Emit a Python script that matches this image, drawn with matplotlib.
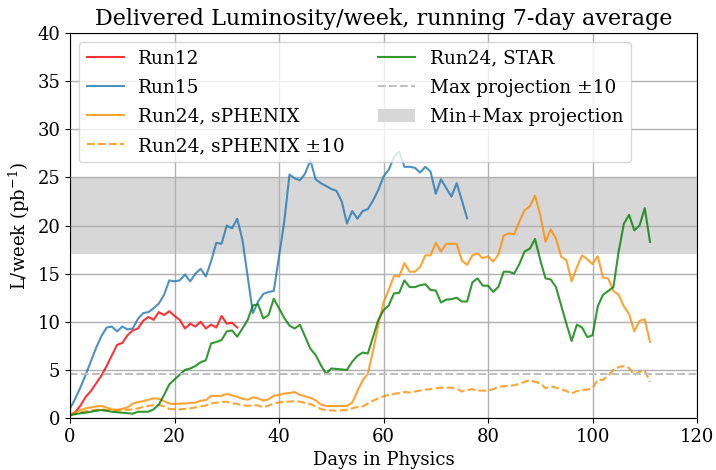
import numpy as np
import matplotlib
matplotlib.use("Agg")
import matplotlib.pyplot as plt

plt.rcParams['font.family'] = ['DejaVu Serif']
plt.rcParams['mathtext.fontset'] = 'dejavuserif'

run12 = [0.3, 0.6, 1.3, 2.2, 2.8, 3.6, 4.4, 5.4, 6.5, 7.6, 7.8, 8.6, 9.1, 9.3, 10.1,
         10.5, 10.2, 11.0, 10.7, 11.1, 10.6, 10.2, 9.3, 9.8, 9.5, 10.0, 9.3, 9.7, 9.4,
         10.6, 9.8, 9.9, 9.4]

run15 = [1.0, 2.0, 3.2, 4.5, 5.9, 7.3, 8.5, 9.4, 9.5, 9.0, 9.5, 9.2, 9.3, 10.3, 10.9,
         11.0, 11.4, 11.9, 12.8, 14.3, 14.2, 14.3, 14.9, 14.2, 15.0, 15.5, 14.7, 16.3,
         18.2, 18.1, 20.0, 19.7, 20.7, 18.5, 14.7, 10.9, 12.1, 12.9, 13.1, 13.2, 16.8,
         20.4, 25.3, 24.9, 24.7, 25.4, 26.8, 24.8, 24.4, 24.1, 23.8, 23.6, 22.5, 20.2,
         21.5, 20.7, 21.5, 21.7, 22.6, 23.7, 25.1, 25.8, 27.1, 27.7, 26.1, 26.1, 26.0,
         25.5, 26.1, 25.6, 23.3, 24.8, 23.9, 23.0, 24.4, 22.6, 20.75]

sphenix = [0.35, 0.6, 0.83, 1.0, 1.1, 1.2, 1.25, 1.1, 0.9, 0.85, 0.95, 1.1, 1.5, 1.65,
           1.75, 1.9, 2.05, 2.0, 1.75, 1.5, 1.45, 1.5, 1.5, 1.55, 1.6, 1.8, 1.85, 2.3,
           2.3, 2.3, 2.5, 2.35, 2.2, 2.0, 1.9, 2.15, 2.05, 1.8, 1.95, 2.3, 2.4, 2.55, 2.6,
           2.7, 2.4, 2.25, 2.1, 1.85, 1.4, 1.25, 1.25, 1.25, 1.25, 1.25, 1.6, 2.8, 3.9,
           4.6, 7.0, 9.7, 12.0, 13.3, 14.75, 14.7, 16.1, 15.2, 15.2, 15.7, 16.9, 16.9,
           18.2, 17.3, 18.1, 18.1, 18.1, 16.35, 15.9, 16.9, 17.1, 16.6, 16.8, 16.25, 17.0,
           18.95, 19.2, 19.1, 20.4, 21.6, 22.0, 23.1, 21.1, 18.3, 19.6, 18.65, 16.75,
           16.4, 14.2, 15.65, 16.9, 16.5, 16.0, 16.8, 14.6, 14.5, 13.2, 12.8, 11.6, 10.8,
           9.0, 10.1, 10.25, 7.9]

sphenix_pm10 = [0.3, 0.45, 0.6, 0.7, 0.8, 0.85, 0.9, 0.85, 0.8, 0.8, 0.8, 0.85, 0.9, 1.0,
                1.15, 1.25, 1.35, 1.35, 1.2, 0.95, 0.9, 0.9, 0.95, 1.0, 1.1, 1.2, 1.3, 1.5,
                1.6, 1.65, 1.7, 1.55, 1.45, 1.35, 1.25, 1.35, 1.3, 1.1, 1.3, 1.5, 1.6, 1.7,
                1.7, 1.75, 1.7, 1.55, 1.45, 1.2, 0.95, 0.8, 0.8, 0.75, 0.8, 0.85, 1.0, 1.15,
                1.2, 1.5, 1.8, 2.05, 2.25, 2.4, 2.5, 2.6, 2.7, 2.65, 2.75, 2.85, 2.95, 3.0,
                3.1, 3.15, 3.15, 3.15, 3.05, 2.75, 2.9, 3.0, 2.85, 2.85, 2.85, 3.0, 3.25,
                3.3, 3.35, 3.4, 3.55, 3.75, 3.95, 3.75, 3.6, 3.1, 3.3, 3.15, 3.0, 2.8, 2.55,
                2.8, 2.9, 2.95, 3.1, 4.0, 3.95, 4.4, 5.0, 5.3, 5.4, 5.2, 4.45, 4.8, 4.9, 3.75]

star = [0.3, 0.4, 0.5, 0.55, 0.65, 0.75, 0.83, 0.75, 0.65, 0.6, 0.55, 0.5, 0.45, 0.65,
        0.65, 0.65, 0.9, 1.4, 2.4, 3.5, 4.0, 4.5, 5.0, 5.15, 5.4, 5.8, 6.0, 7.75, 7.9,
        8.1, 9.0, 9.1, 8.45, 9.3, 10.2, 11.7, 11.8, 10.35, 10.7, 12.4, 11.4, 10.4, 9.6,
        9.3, 9.7, 8.45, 7.2, 6.55, 5.5, 4.6, 5.15, 5.1, 5.05, 5.0, 5.85, 6.45, 6.8, 6.7,
        8.45, 10.2, 11.2, 11.7, 12.95, 13.0, 14.3, 13.6, 13.6, 13.8, 13.9, 13.3, 13.25,
        12.0, 12.3, 12.35, 12.5, 12.1, 12.1, 14.1, 14.5, 13.75, 13.75, 13.1, 13.65, 15.2,
        15.2, 15.0, 16.0, 17.3, 17.6, 18.6, 16.4, 14.5, 14.4, 13.6, 11.7, 9.8, 8.0, 9.7,
        9.4, 8.4, 8.6, 11.6, 12.8, 13.2, 13.6, 17.3, 20.2, 21.1, 19.5, 20.0, 21.8, 18.3]

max_projection = 4.55
band_min, band_max = 17.0, 25.0
x_range = [0, 120]

fig = plt.figure(figsize=(7.16, 4.70), dpi=100)
ax = fig.add_axes([0.0978, 0.1106, 0.8757, 0.8192])

ax.plot(np.arange(len(run12)), run12, color='red', alpha=0.8, lw=1.5, label='Run12')
ax.plot(np.arange(len(run15)), run15, color='tab:blue', alpha=0.8, lw=1.5, label='Run15')
ax.plot(np.arange(len(sphenix)), sphenix, color='darkorange', alpha=0.8, lw=1.5,
        label='Run24, sPHENIX')
ax.plot(np.arange(len(sphenix_pm10)), sphenix_pm10, color='darkorange', alpha=0.8, lw=1.5,
        ls='--', label='Run24, sPHENIX ±10')
ax.plot(np.arange(len(star)), star, color='green', alpha=0.8, lw=1.5, label='Run24, STAR')
ax.plot(x_range, [max_projection, max_projection], color='silver', ls='--', lw=1.5,
        label='Max projection ±10')
ax.fill_between(x_range, band_min, band_max, color='lightgrey', alpha=0.9, lw=0,
                label='Min+Max projection')

ax.set_xlim(0, 120)
ax.set_ylim(0, 40)
ax.set_xticks(np.arange(0, 121, 20))
ax.set_yticks(np.arange(0, 41, 5))
ax.tick_params(labelsize=13)
ax.grid(True, color='#b0b0b0', lw=1.0)
ax.set_xlabel('Days in Physics', fontsize=13)
ax.set_ylabel('L/week (pb$^{-1}$)', fontsize=13)
ax.set_title('Delivered Luminosity/week, running 7-day average', fontsize=16)
ax.legend(ncol=2, loc='upper left', fontsize=13.3, columnspacing=1.8, labelspacing=0.6)

fig.savefig('out.png', dpi=100)
